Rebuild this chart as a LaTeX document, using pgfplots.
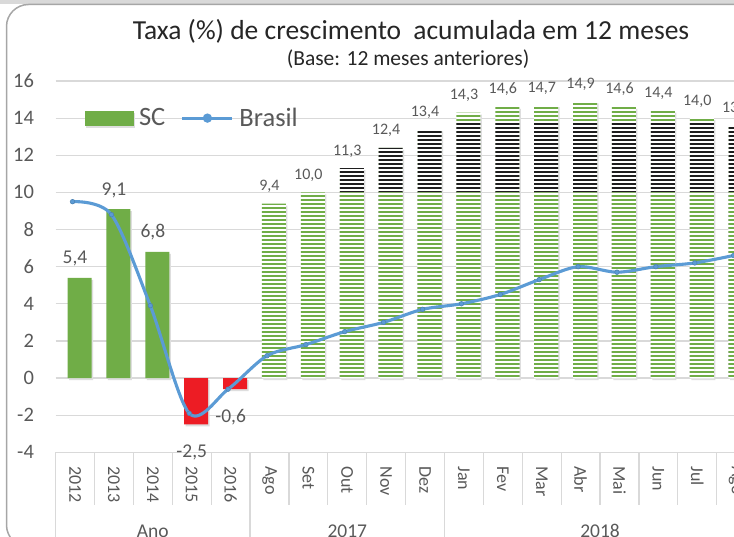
\documentclass[border=0pt]{standalone}
\usepackage{pgfplots}
\pgfplotsset{compat=1.18}
\usepackage{fontspec}
\setmainfont{Carlito}
\usetikzlibrary{patterns}
\definecolor{scgreen}{HTML}{70AD47}
\definecolor{scred}{HTML}{ED1C24}
\definecolor{brblue}{HTML}{5B9BD5}
\definecolor{txtgray}{HTML}{595959}
\definecolor{gridgray}{HTML}{D9D9D9}
\definecolor{framegray}{HTML}{A6A6A6}
\definecolor{stripeblack}{HTML}{1E1E1E}

\pgfdeclarepatternformonly{hstripes}{\pgfqpoint{0pt}{0pt}}{\pgfqpoint{760pt}{4pt}}{\pgfqpoint{760pt}{4pt}}{%
  \pgfpathrectangle{\pgfqpoint{0pt}{0pt}}{\pgfqpoint{760pt}{2.3pt}}\pgfusepath{fill}}

\tikzset{
  barshadow/.style={preaction={fill=black!13, transform canvas={xshift=1.5pt, yshift=-2pt}}},
  greenstripes/.style={preaction={fill=white}, pattern=hstripes, pattern color=scgreen},
  blackstripes/.style={preaction={fill=white}, pattern=hstripes, pattern color=stripeblack},
}

\begin{document}
\begin{tikzpicture}[x=1pt,y=1pt]
\useasboundingbox (0,0) rectangle (734,537);
\clip (0,0) rectangle (734,537);
\fill[gridgray] (0,533) rectangle (734,537);
\draw[fill=white, draw=framegray, line width=1.5pt, rounded corners=22pt] (6.5,-10) rectangle (800,532.5);
\node[font=\fontsize{27.5}{27.5}\selectfont, text=black!85, anchor=base, inner sep=0pt] at (411,497.5) {Taxa (\%) de crescimento\hspace{6pt} acumulada em 12 meses};
\node[font=\fontsize{21.5}{21.5}\selectfont, text=black!85, anchor=base, inner sep=0pt] at (408,471) {(Base: 12 meses anteriores)};
\begin{axis}[
  at={(55.6pt,84.7pt)}, anchor=south west,
  scale only axis, width=700pt, height=371.3pt,
  xmin=-0.5, xmax=17.5, ymin=-4, ymax=16,
  clip=false,
  axis line style={draw=none},
  ytick={-4,-2,...,16},
  ymajorgrids, grid style={gridgray, line width=1.2pt},
  ytick style={draw=none}, xtick style={draw=none},
  xtick={0,...,17},
  xticklabels={2012,2013,2014,2015,2016,Ago,Set,Out,Nov,Dez,Jan,Fev,Mar,Abr,Mai,Jun,Jul,Ago},
  xticklabel style={rotate=-90, anchor=west, inner sep=0pt, font=\fontsize{18}{18}\selectfont, text=txtgray},
  xticklabel shift=14pt,
  yticklabel style={anchor=east, inner sep=0pt, font=\fontsize{20.5}{20.5}\selectfont, text=txtgray},
  yticklabel shift=21.5pt,
  /pgf/number format/assume math mode=true,
  legend style={at={(axis cs:0.24,14)}, anchor=west, draw=none, fill=none, inner sep=0pt,
    font=\fontsize{26.5}{26.5}\selectfont, text=txtgray, legend columns=2,
    nodes={inner sep=2.5pt},
    /tikz/every odd column/.append style={column sep=3pt},
    /tikz/every even column/.append style={column sep=13pt}},
  legend cell align=left,
]
% SC annual (solid green)
\addplot[ybar, bar width=24pt, bar shift=4.5pt, fill=scgreen, draw=none, barshadow,
  nodes near coords={\pgfmathprintnumber[fixed, fixed zerofill, precision=1, use comma]{\pgfplotspointmeta}},
  nodes near coords style={anchor=base, yshift=14pt, inner sep=0pt, font=\fontsize{19.5}{19.5}\selectfont, text=txtgray},
  legend image code/.code={\fill[scgreen] (0pt,-7.5pt) rectangle (49pt,7.5pt);}]
  coordinates {(0,5.4) (1,9.1) (2,6.8)};
% SC annual (negative, red)
\addplot[ybar, bar width=24pt, bar shift=4.5pt, fill=scred, draw=none, barshadow, forget plot,
  nodes near coords={\pgfmathprintnumber[fixed, fixed zerofill, precision=1, use comma]{\pgfplotspointmeta}},
  nodes near coords style={anchor=north, yshift=-20pt, inner sep=0pt, font=\fontsize{19.5}{19.5}\selectfont, text=txtgray}]
  coordinates {(3,-2.5) (4,-0.6)};
% SC monthly, full height (green stripes)
\addplot[ybar, bar width=24pt, bar shift=4.5pt, draw=none, barshadow, greenstripes, forget plot,
  nodes near coords={\pgfmathprintnumber[fixed, fixed zerofill, precision=1, use comma]{\pgfplotspointmeta}},
  nodes near coords style={anchor=base, yshift=13pt, inner sep=0pt, font=\fontsize{16}{16}\selectfont, text=txtgray}]
  coordinates {(5,9.4) (6,10.0) (7,11.3) (8,12.4) (9,13.4) (10,14.3) (11,14.6) (12,14.7) (13,14.9) (14,14.6) (15,14.4) (16,14.0) (17,13.6)};
% black-striped layer
\addplot[ybar, bar width=24pt, bar shift=4.5pt, draw=none, blackstripes, forget plot]
  coordinates {(7,11.3) (8,12.4) (9,13.4) (10,13.75) (11,13.75) (12,13.75) (13,13.75) (14,13.75) (15,13.75) (16,13.75) (17,13.6)};
% green-striped base layer
\addplot[ybar, bar width=24pt, bar shift=4.5pt, draw=none, greenstripes, forget plot]
  coordinates {(7,10) (8,10) (9,10) (10,10) (11,10) (12,10) (13,10) (14,10) (15,10) (16,10) (17,10)};
% Brasil
\addplot[smooth, brblue, line width=3.1pt, xshift=-2.5pt, mark=*, mark size=2.3pt,
  mark options={fill=brblue, draw=brblue!85!black, line width=0.6pt},
  legend image code/.code={\draw[brblue, line width=3.1pt] (0pt,0pt) -- (50pt,0pt); \fill[brblue] (25pt,0pt) circle (3pt);}]
  coordinates {(0,9.5) (1,8.8) (2,3.9) (3,-1.9) (4,-0.6) (5,1.2) (6,1.8) (7,2.5) (8,3.0) (9,3.7) (10,4.0) (11,4.5) (12,5.3) (13,6.0) (14,5.7) (15,6.0) (16,6.2) (17,6.6)};
\legend{SC,Brasil}
% category separators in the label area
\pgfplotsinvokeforeach{-0.5,0.5,...,17.5}{
  \draw[gridgray, line width=1.2pt] (axis cs:#1,-4) -- ++(0pt,-53pt);
}
\pgfplotsinvokeforeach{-0.5,4.5,9.5}{
  \draw[gridgray, line width=1.2pt] (axis cs:#1,-4) -- ++(0pt,-95pt);
}
\node[anchor=base, font=\fontsize{19.5}{19.5}\selectfont, text=txtgray, inner sep=0pt] at ([yshift=-85pt]axis cs:2,-4) {Ano};
\node[anchor=base, font=\fontsize{19.5}{19.5}\selectfont, text=txtgray, inner sep=0pt] at ([yshift=-85pt]axis cs:7,-4) {2017};
\node[anchor=base, font=\fontsize{19.5}{19.5}\selectfont, text=txtgray, inner sep=0pt] at ([yshift=-85pt]axis cs:13.5,-4) {2018};
\end{axis}
\end{tikzpicture}
\end{document}
